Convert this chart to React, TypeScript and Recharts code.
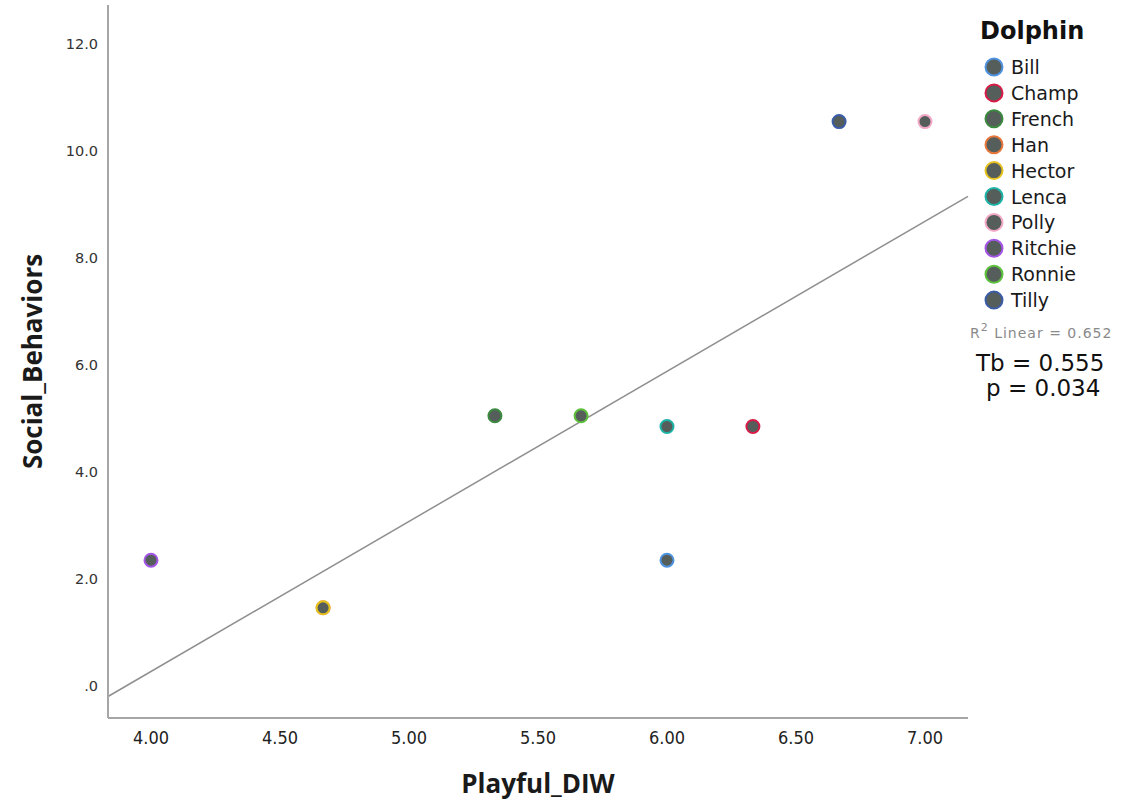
import React from 'react';
import {
  ScatterChart,
  Scatter,
  XAxis,
  YAxis,
  ReferenceLine,
  Label,
} from 'recharts';

// Per-dolphin scores (one case per dolphin)
const dolphins = ['Bill', 'Champ', 'French', 'Han', 'Hector', 'Lenca', 'Polly', 'Ritchie', 'Ronnie', 'Tilly'];
const playfulDIW = [6.0, 6.333, 5.333, 4.667, 4.667, 6.0, 7.0, 4.0, 5.667, 6.667];
const socialBehaviors = [2.35, 4.85, 5.05, 1.46, 1.46, 4.85, 10.55, 2.35, 5.05, 10.55];
const edgeColors = ['#4f93df', '#d81b47', '#3c8a3f', '#e8773a', '#e6c21c', '#1db3a7', '#f2a8c6', '#a356e6', '#5dc13c', '#3b5ca8'];

const xTicks = [4, 4.5, 5, 5.5, 6, 6.5, 7];
const yTicks = [0, 2, 4, 6, 8, 10, 12];
const xDomain = [3.8333, 7.1667];
const yDomain = [-0.6, 12.73];

const fitStats = ['R² Linear = 0.652', 'Tb = 0.555', 'p = 0.034'];

const POINT_FILL = '#555e5b';
const AXIS_COLOR = '#a6a6a6';

// Ordinary least squares fit over all cases
const n = playfulDIW.length;
const mx = playfulDIW.reduce((a, b) => a + b, 0) / n;
const my = socialBehaviors.reduce((a, b) => a + b, 0) / n;
let sxy = 0;
let sxx = 0;
for (let i = 0; i < n; i++) {
  sxy += (playfulDIW[i] - mx) * (socialBehaviors[i] - my);
  sxx += (playfulDIW[i] - mx) ** 2;
}
const slope = sxy / sxx;
const intercept = my - slope * mx;
const fitAt = (x: number) => intercept + slope * x;

const makeDot = (color: string, r: number) => (props: any) => {
  const { cx, cy } = props;
  if (cx == null || cy == null) return <g />;
  return <circle cx={cx} cy={cy} r={r} fill={POINT_FILL} stroke={color} strokeWidth={2} />;
};

const yTitle = (props: any) => {
  const vb = props.viewBox || {};
  const cy = (vb.y ?? 5) + (vb.height ?? 713) / 2;
  return (
    <text
      x={32}
      y={cy}
      transform={`rotate(-90, 32, ${cy})`}
      textAnchor="middle"
      dominantBaseline="central"
      fontFamily="'Open Sans', sans-serif"
      fontWeight={700}
      fontSize={26}
      fill="#1a1a1a"
    >
      Social_Behaviors
    </text>
  );
};

const xTitle = (props: any) => {
  const vb = props.viewBox || {};
  const cx = (vb.x ?? 108) + (vb.width ?? 860) / 2;
  return (
    <text
      x={cx}
      y={783}
      textAnchor="middle"
      dominantBaseline="central"
      fontFamily="'Open Sans', sans-serif"
      fontWeight={700}
      fontSize={26}
      fill="#1a1a1a"
    >
      Playful_DIW
    </text>
  );
};

function LegendPanel() {
  return (
    <svg width={176} height={420} style={{ position: 'absolute', left: 968, top: 0 }}>
      <text x={12} y={39} fontFamily="'DejaVu Sans', sans-serif" fontWeight={700} fontSize={24} fill="#111">
        Dolphin
      </text>
      {dolphins.map((name, i) => {
        const cy = 67 + i * 25.9;
        return (
          <g key={name}>
            <circle cx={26} cy={cy} r={8.5} fill={POINT_FILL} stroke={edgeColors[i]} strokeWidth={2} />
            <text
              x={43}
              y={cy}
              dominantBaseline="central"
              fontFamily="'DejaVu Sans', sans-serif"
              fontSize={19}
              fill="#1a1a1a"
            >
              {name}
            </text>
          </g>
        );
      })}
      <text x={2} y={333} dominantBaseline="central" fontFamily="'DejaVu Sans', sans-serif" fontSize={14} letterSpacing={1} fill="#8a8a8a">
        <tspan>R</tspan>
        <tspan dy={-6} fontSize={11}>2</tspan>
        <tspan dy={6}>{fitStats[0].slice(2)}</tspan>
      </text>
      <text x={8} y={363} dominantBaseline="central" fontFamily="'DejaVu Sans', sans-serif" fontSize={23} fill="#111">
        {fitStats[1]}
      </text>
      <text x={18} y={388} dominantBaseline="central" fontFamily="'DejaVu Sans', sans-serif" fontSize={23} fill="#111">
        {fitStats[2]}
      </text>
    </svg>
  );
}

export default function App() {
  return (
    <div style={{ position: 'absolute', left: 0, top: 0, width: 1144, height: 805, background: '#fff' }}>
      <ScatterChart width={1144} height={805} margin={{ top: 5, right: 176, bottom: 0, left: 0 }}>
        <XAxis
          type="number"
          dataKey="x"
          domain={xDomain}
          ticks={xTicks}
          allowDataOverflow
          tickFormatter={(v: number) => v.toFixed(2)}
          height={87}
          tickLine={false}
          tickSize={0}
          tickMargin={13}
          axisLine={{ stroke: AXIS_COLOR, strokeWidth: 2 }}
          tick={{ fill: '#222', fontSize: 18, fontFamily: "'Liberation Sans Narrow', 'DejaVu Sans Condensed', 'Open Sans', sans-serif" }}
        >
          <Label content={xTitle} />
        </XAxis>
        <YAxis
          type="number"
          dataKey="y"
          domain={yDomain}
          ticks={yTicks}
          allowDataOverflow
          tickFormatter={(v: number) => (v === 0 ? '.0' : v.toFixed(1))}
          width={108}
          tickLine={false}
          tickSize={0}
          tickMargin={10}
          axisLine={{ stroke: AXIS_COLOR, strokeWidth: 2 }}
          tick={{ fill: '#333', fontSize: 14.5, fontFamily: "'DejaVu Sans', sans-serif" }}
        >
          <Label content={yTitle} />
        </YAxis>
        <ReferenceLine
          segment={[
            { x: xDomain[0], y: fitAt(xDomain[0]) },
            { x: xDomain[1], y: fitAt(xDomain[1]) },
          ]}
          stroke="#8f8f8f"
          strokeWidth={1.5}
          ifOverflow="visible"
        />
        {dolphins.map((name, i) => (
          <Scatter
            key={name}
            name={name}
            data={[{ x: playfulDIW[i], y: socialBehaviors[i] }]}
            shape={makeDot(edgeColors[i], 6.5)}
            isAnimationActive={false}
          />
        ))}
      </ScatterChart>
      <LegendPanel />
    </div>
  );
}
